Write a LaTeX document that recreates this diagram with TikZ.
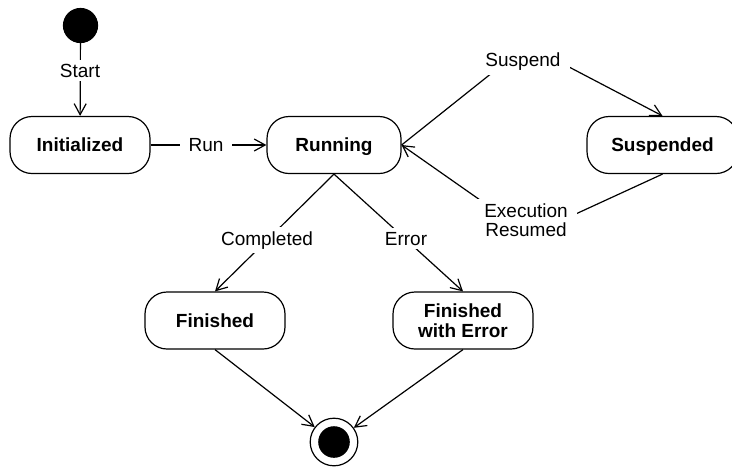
\documentclass[tikz,border=0pt]{standalone}
\usepackage{fontspec}
\setmainfont{Liberation Sans}
\usetikzlibrary{arrows.meta}
\begin{document}
\begin{tikzpicture}[x=1pt, y=-1pt, line width=1.2pt,
  font=\fontsize{19}{19.5}\selectfont,
  state/.style={draw, rounded corners=22pt, minimum height=57pt, inner sep=0pt,
    align=center, font=\fontsize{19}{19.5}\selectfont\bfseries},
  oneline/.style={text height=13.6pt, text depth=0pt},
  lbl/.style={fill=white, inner xsep=9pt, inner ysep=4pt, align=center},
  arr/.style={-{Straight Barb[length=11pt,width=12pt]}}]

\useasboundingbox (0,0) rectangle (732,467);
\clip (0,0) rectangle (732,467);

% initial and final pseudo-states
\node[circle, draw, fill=black, minimum size=34pt, inner sep=0pt] (start) at (80.5,25.5) {};
\node[circle, draw, minimum size=47.6pt, inner sep=0pt] (end) at (334,442) {};
\node[circle, fill=black, minimum size=31.6pt, inner sep=0pt] (endcore) at (end.center) {};

% states
\node[state, oneline, minimum width=140pt] (init)   at (80,145)    {Initialized};
\node[state, oneline, minimum width=134pt] (run)    at (334,145)   {Running};
\node[state, oneline, minimum width=151pt] (susp)   at (662.5,145) {Suspended};
\node[state, oneline, minimum width=140pt] (fin)    at (215,320.5) {Finished};
\node[state,          minimum width=140pt] (finerr) at (463,320.5) {Finished\\with Error};

% bend points of the suspend / resume transitions
\coordinate (kSusp) at (527,45);
\coordinate (kRes)  at (530,235);

% transitions
\draw[arr] (start) -- (init);
\draw[arr] (init) -- (run);
\draw[arr] (run.south) -- (fin.north);
\draw[arr] (run.south) -- (finerr.north);
\draw[arr] (fin.south) -- (end);
\draw[arr] (finerr.south) -- (end);
\draw[arr, rounded corners=24pt] (run.east) -- (kSusp) -- (susp.north);
\draw[arr, rounded corners=24pt] (susp.south) -- (kRes) -- (run.east);

% transition labels
\node[lbl, anchor=base] (lStart) at (80,77)      {Start};
\node[lbl, anchor=base] (lRun)   at (206,151.7)  {Run};
\node[lbl, anchor=base] (lComp)  at (267,245)    {Completed};
\node[lbl, anchor=base] (lErr)   at (406,245)    {Error};
\node[lbl, anchor=base] (lSusp)  at (523,66.7)   {Suspend};
\node[lbl]              (lRes)   at (526,220.2)  {Execution\\Resumed};

\end{tikzpicture}
\end{document}
